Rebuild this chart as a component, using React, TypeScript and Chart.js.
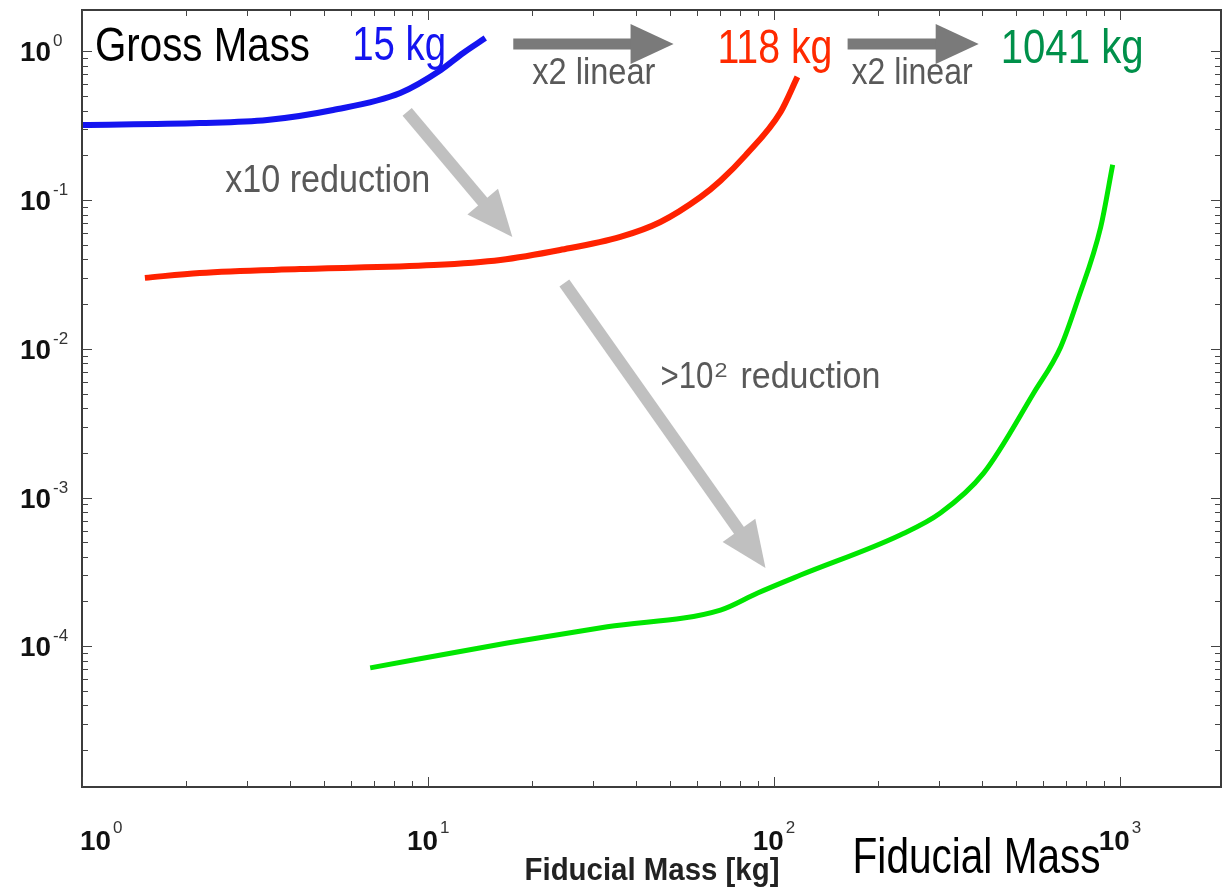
import React, { useEffect, useRef } from "react";
import { Chart, registerables } from "chart.js";

Chart.register(...registerables);

// ---- Data ----
const blueMass = [1, 2.19, 3.43, 5.32, 8.32, 10.9, 12.65, 14.65];
const blueRate = [0.32, 0.33, 0.346, 0.404, 0.526, 0.751, 0.977, 1.23];

const redMass = [1.52, 2.19, 4.27, 10.4, 16.2, 24.1, 36.0, 47.0, 61.4, 70.1, 82.8, 104.5, 117];
const redRate = [0.03, 0.0324, 0.0344, 0.0366, 0.0396, 0.0462, 0.0566, 0.0713, 0.105, 0.135, 0.2, 0.39, 0.674];

const greenMass = [6.81, 16.96, 33.0, 70.1, 89.8, 119.5, 232, 303, 404, 564, 675, 756, 881, 954];
const greenRate = [7.15e-5, 1.05e-4, 1.35e-4, 1.75e-4, 2.28e-4, 3.01e-4, 5.6e-4, 7.87e-4, 1.46e-3, 5.05e-3, 0.0103, 0.0213, 0.066, 0.173];

const xMajorTicks = [1, 10, 100, 1000];
const xTickExponents = ["0", "1", "2", "3"];
const yMajorTicks = [1e-4, 1e-3, 1e-2, 1e-1, 1];
const yTickExponents = ["-4", "-3", "-2", "-1", "0"];

const xAxisTitle = "Fiducial Mass [kg]";

// ---- Annotations (data coordinates) ----
const darkArrows = [
  { from: [17.65, 1.123], to: [51.3, 1.123] },
  { from: [163.4, 1.123], to: [391, 1.123] },
];
const lightArrows = [
  { from: [8.71, 0.392], to: [17.54, 0.0566] },
  { from: [24.8, 0.02773], to: [94.6, 3.36e-4] },
];
const labels = [
  { text: "Gross Mass", at: [1.09, 0.863], color: "#000000", size: 48, width: 215 },
  { text: "15 kg", at: [6.04, 0.877], color: "#1414f0", size: 48, width: 94 },
  { text: "118 kg", at: [68.7, 0.837], color: "#ff2a00", size: 48, width: 115 },
  { text: "1041 kg", at: [452.6, 0.837], color: "#00904a", size: 48, width: 143 },
  { text: "x2 linear", at: [20.04, 0.605], color: "#595959", size: 37, width: 123 },
  { text: "x2 linear", at: [167.8, 0.605], color: "#595959", size: 37, width: 121 },
  { text: "x10 reduction", at: [2.593, 0.1135], color: "#595959", size: 38, width: 205 },
];
const powerLabel = { base: ">10", sup: "2", rest: "reduction", at: [47.0, 5.46e-3], color: "#595959" };
const cornerLabel = { text: "Fiducial Mass", at: [168.9, 2.99e-6], color: "#000000", size: 50, width: 248 };

const FONT = '"Liberation Sans", Arial, Helvetica, sans-serif';

function fitText(ctx: CanvasRenderingContext2D, text: string, x: number, y: number, size: number, width: number | null, color: string, weight = "normal", align: "left" | "center" | "right" = "left") {
  ctx.save();
  ctx.font = `${weight} ${size}px ${FONT}`;
  ctx.fillStyle = color;
  ctx.textBaseline = "alphabetic";
  const m = ctx.measureText(text).width;
  const sx = width ? width / m : 1;
  const w = m * sx;
  let left = x;
  if (align === "center") left = x - w / 2;
  if (align === "right") left = x - w;
  ctx.translate(left, y);
  ctx.scale(sx, 1);
  ctx.textAlign = "left";
  ctx.fillText(text, 0, 0);
  ctx.restore();
}

function drawArrow(ctx: CanvasRenderingContext2D, x1: number, y1: number, x2: number, y2: number, color: string, shaft: number, headLen: number, headW: number) {
  const dx = x2 - x1;
  const dy = y2 - y1;
  const len = Math.hypot(dx, dy);
  const ux = dx / len;
  const uy = dy / len;
  const bx = x2 - ux * headLen;
  const by = y2 - uy * headLen;
  ctx.save();
  ctx.strokeStyle = color;
  ctx.fillStyle = color;
  ctx.lineWidth = shaft;
  ctx.lineCap = "butt";
  ctx.beginPath();
  ctx.moveTo(x1, y1);
  ctx.lineTo(bx + ux * 2, by + uy * 2);
  ctx.stroke();
  ctx.beginPath();
  ctx.moveTo(x2, y2);
  ctx.lineTo(bx - uy * headW / 2, by + ux * headW / 2);
  ctx.lineTo(bx + uy * headW / 2, by - ux * headW / 2);
  ctx.closePath();
  ctx.fill();
  ctx.restore();
}

const decorPlugin = {
  id: "decor",
  beforeDraw(chart: any) {
    const ctx = chart.ctx as CanvasRenderingContext2D;
    ctx.save();
    ctx.fillStyle = "#ffffff";
    ctx.fillRect(0, 0, chart.width, chart.height);
    ctx.restore();
  },
  afterDraw(chart: any) {
    const ctx = chart.ctx as CanvasRenderingContext2D;
    const xs = chart.scales.x;
    const ys = chart.scales.y;
    const { left, right, top, bottom } = chart.chartArea;
    const px = (v: number) => xs.getPixelForValue(v);
    const py = (v: number) => ys.getPixelForValue(v);

    // frame
    ctx.save();
    ctx.strokeStyle = "#3c3c3c";
    ctx.lineWidth = 2;
    ctx.strokeRect(left, top, right - left - 1, bottom - top);
    ctx.restore();

    // ticks (inward, mirrored)
    ctx.save();
    ctx.strokeStyle = "#444444";
    ctx.lineWidth = 1;
    const xmin = xs.min, xmax = xs.max, ymin = ys.min, ymax = ys.max;
    for (let e = Math.floor(Math.log10(xmin)); e <= Math.ceil(Math.log10(xmax)); e++) {
      for (let m = 1; m <= 9; m++) {
        const v = m * Math.pow(10, e);
        if (v < xmin || v > xmax) continue;
        const L = m === 1 ? 10 : 6;
        const x = Math.round(px(v)) + 0.5;
        ctx.beginPath();
        ctx.moveTo(x, bottom); ctx.lineTo(x, bottom - L);
        ctx.moveTo(x, top); ctx.lineTo(x, top + L);
        ctx.stroke();
      }
    }
    for (let e = Math.floor(Math.log10(ymin)); e <= Math.ceil(Math.log10(ymax)); e++) {
      for (let m = 1; m <= 9; m++) {
        const v = m * Math.pow(10, e);
        if (v < ymin || v > ymax) continue;
        const L = m === 1 ? 10 : 6;
        const y = Math.round(py(v)) + 0.5;
        ctx.beginPath();
        ctx.moveTo(left, y); ctx.lineTo(left + L, y);
        ctx.moveTo(right - 1, y); ctx.lineTo(right - 1 - L, y);
        ctx.stroke();
      }
    }
    ctx.restore();

    // tick labels
    xMajorTicks.forEach((v, i) => {
      const x = px(v);
      let l = x - 21;
      if (l < left - 2) l = left - 2;
      fitText(ctx, "10", l, bottom + 63, 28, 31, "#111111", "bold");
      fitText(ctx, xTickExponents[i], l + 33, bottom + 46, 17, null, "#333333");
    });
    yMajorTicks.forEach((v, i) => {
      const y = py(v);
      const exp = yTickExponents[i];
      fitText(ctx, "10", left - 31, y + 10, 28, 31, "#111111", "bold", "right");
      fitText(ctx, exp, left - 29, y - 5, 17, null, "#333333");
    });

    // axis title
    fitText(ctx, xAxisTitle, (left + right) / 2, bottom + 93, 31, 255, "#222222", "bold", "center");

    // arrows
    darkArrows.forEach((a) => {
      drawArrow(ctx, px(a.from[0]), py(a.from[1]), px(a.to[0]), py(a.to[1]), "#7a7a7a", 11, 43, 40);
    });
    lightArrows.forEach((a) => {
      drawArrow(ctx, px(a.from[0]), py(a.from[1]), px(a.to[0]), py(a.to[1]), "#c0c0c0", 12, 46, 40);
    });

    // labels
    labels.forEach((t) => {
      fitText(ctx, t.text, px(t.at[0]), py(t.at[1]), t.size, t.width, t.color);
    });
    const bx = px(powerLabel.at[0]);
    const by = py(powerLabel.at[1]);
    fitText(ctx, powerLabel.base, bx, by, 37, 53, powerLabel.color);
    fitText(ctx, powerLabel.sup, bx + 54, by - 11, 21, 13, powerLabel.color);
    fitText(ctx, powerLabel.rest, bx + 80, by, 37, 140, powerLabel.color);
    fitText(ctx, cornerLabel.text, px(cornerLabel.at[0]), py(cornerLabel.at[1]), cornerLabel.size, cornerLabel.width, cornerLabel.color);
  },
};

function toPoints(xs: number[], ys: number[]) {
  return xs.map((x, i) => ({ x, y: ys[i] }));
}

export default function App() {
  const ref = useRef<HTMLCanvasElement | null>(null);
  useEffect(() => {
    if (!ref.current) return;
    const chart = new Chart(ref.current, {
      type: "line",
      data: {
        datasets: [
          { data: toPoints(blueMass, blueRate), borderColor: "#1414f0", borderWidth: 6, pointRadius: 0, cubicInterpolationMode: "monotone", fill: false },
          { data: toPoints(redMass, redRate), borderColor: "#ff2200", borderWidth: 6, pointRadius: 0, cubicInterpolationMode: "monotone", fill: false },
          { data: toPoints(greenMass, greenRate), borderColor: "#00e600", borderWidth: 5, pointRadius: 0, cubicInterpolationMode: "monotone", fill: false },
        ],
      },
      options: {
        responsive: false,
        maintainAspectRatio: false,
        animation: false,
        layout: { padding: { left: 82, top: 10, right: 1, bottom: 101 } },
        plugins: { legend: { display: false }, tooltip: { enabled: false }, title: { display: false } },
        scales: {
          x: { type: "logarithmic", min: 1, max: 1975, display: false },
          y: { type: "logarithmic", min: 1.13e-5, max: 1.9, display: false },
        },
      },
      plugins: [decorPlugin],
    } as any);
    return () => chart.destroy();
  }, []);
  return (
    <div style={{ position: "absolute", left: 0, top: 0, width: 1223, height: 888, background: "#fff" }}>
      <canvas ref={ref} width={1223} height={888} style={{ display: "block", width: 1223, height: 888 }} />
    </div>
  );
}
